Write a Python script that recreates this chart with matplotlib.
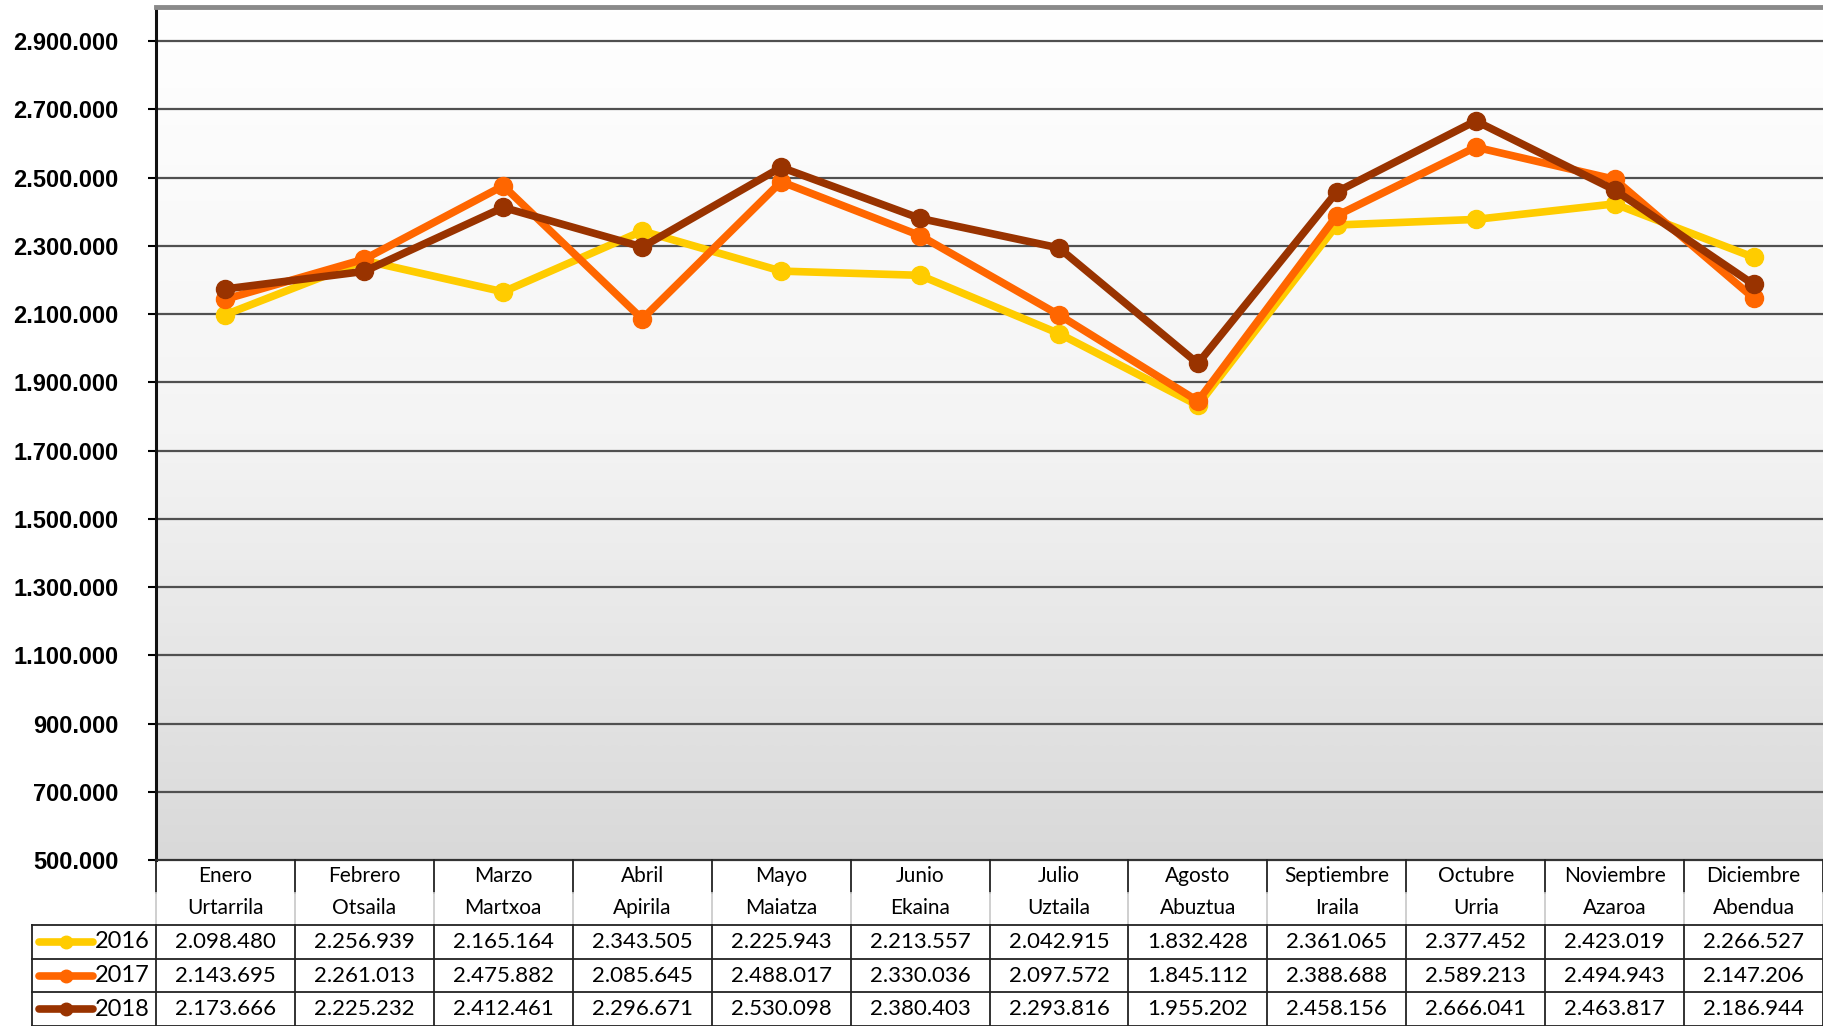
import numpy as np
import matplotlib.pyplot as plt
from matplotlib.ticker import FuncFormatter

meses = ['Enero', 'Febrero', 'Marzo', 'Abril', 'Mayo', 'Junio', 'Julio',
         'Agosto', 'Septiembre', 'Octubre', 'Noviembre', 'Diciembre']
hilabeteak = ['Urtarrila', 'Otsaila', 'Martxoa', 'Apirila', 'Maiatza', 'Ekaina',
              'Uztaila', 'Abuztua', 'Iraila', 'Urria', 'Azaroa', 'Abendua']

v2016 = [2098480, 2256939, 2165164, 2343505, 2225943, 2213557,
         2042915, 1832428, 2361065, 2377452, 2423019, 2266527]
v2017 = [2143695, 2261013, 2475882, 2085645, 2488017, 2330036,
         2097572, 1845112, 2388688, 2589213, 2494943, 2147206]
v2018 = [2173666, 2225232, 2412461, 2296671, 2530098, 2380403,
         2293816, 1955202, 2458156, 2666041, 2463817, 2186944]

series = [('2016', v2016, '#FFCC00'),
          ('2017', v2017, '#FF6600'),
          ('2018', v2018, '#993300')]

yticks = np.arange(500000, 2900001, 200000)


def miles(v, pos=None):
    return f'{int(v):,}'.replace(',', '.')


W, H = 1823, 1026
fig = plt.figure(figsize=(W / 100, H / 100), dpi=100)
fig.patch.set_facecolor('white')

# area del grafico (en pixeles de la figura)
x0, y_top, y_bot = 156, 7, 860
ax = fig.add_axes([x0 / W, (H - y_bot) / H, (W - x0) / W, (y_bot - y_top) / H])
ax.set_xlim(-0.5, 11.5)
ax.set_ylim(500000, 3000000)

# fondo degradado blanco -> gris
grad = np.linspace(0, 1, 256).reshape(-1, 1)
ax.imshow(grad, extent=(-0.5, 11.5, 500000, 3000000), aspect='auto',
          cmap=plt.matplotlib.colors.LinearSegmentedColormap.from_list(
              'g', ['#d9d9d9', '#f4f4f4', '#ffffff'], N=256),
          origin='lower', zorder=0, interpolation='bilinear')

for yv in yticks[1:]:
    ax.axhline(yv, color='#505050', lw=1.6, zorder=1)

x = np.arange(len(meses))
for nombre, vals, col in series:
    ax.plot(x, vals, color=col, lw=5.5, marker='o', ms=13,
            solid_joinstyle='round', zorder=3)

ax.set_yticks(yticks)
ax.yaxis.set_major_formatter(FuncFormatter(miles))
ax.tick_params(axis='y', length=6, width=1.5, pad=21, direction='out',
               labelsize=17)
for lab in ax.get_yticklabels():
    lab.set_fontweight('bold')
    lab.set_fontfamily('Liberation Sans')
ax.set_xticks([])
ax.spines['left'].set_linewidth(2.2)
ax.spines['left'].set_color('#111111')
ax.spines['top'].set_linewidth(3.5)
ax.spines['top'].set_color('#8a8a8a')
ax.spines['right'].set_visible(False)
ax.spines['bottom'].set_linewidth(1.6)
ax.spines['bottom'].set_color('#333333')

# tabla de datos debajo
tx = fig.add_axes([0, 0, 1, 1], zorder=5)
tx.set_xlim(0, W)
tx.set_ylim(H, 0)
tx.axis('off')

col_w = (W - x0) / 12
legend_x = 32
row_lines = [925, 959, 992, 1026]
fnt = 'Lato'
fs = 15

for i in range(13):
    xc = x0 + i * col_w
    tx.plot([xc, xc], [860, 893], color='#222222', lw=1.3)
    tx.plot([xc, xc], [893, 925], color='#cccccc', lw=1.3)
    tx.plot([xc, xc], [925, 1026], color='#222222', lw=1.3)
tx.plot([legend_x, legend_x], [925, 1026], color='#222222', lw=1.3)
for yl in row_lines:
    tx.plot([legend_x, W], [yl, yl], color='#222222', lw=1.3)

for i in range(12):
    xc = x0 + (i + 0.5) * col_w
    tx.text(xc, 876, meses[i], ha='center', va='center', fontsize=fs, family=fnt)
    tx.text(xc, 908, hilabeteak[i], ha='center', va='center', fontsize=fs, family=fnt)

row_c = [942, 975.5, 1009]
for r, (nombre, vals, col) in enumerate(series):
    yc = row_c[r]
    tx.plot([39, 93], [yc, yc], color=col, lw=5.5, solid_capstyle='round')
    tx.plot([66], [yc], marker='o', color=col, ms=9)
    tx.text(150, yc, nombre, ha='right', va='center', fontsize=fs + 2, family=fnt)
    for i, v in enumerate(vals):
        xc = x0 + (i + 0.5) * col_w
        tx.text(xc, yc, miles(v), ha='center', va='center', fontsize=fs + 1, family=fnt)

fig.savefig('out.png', dpi=100)
